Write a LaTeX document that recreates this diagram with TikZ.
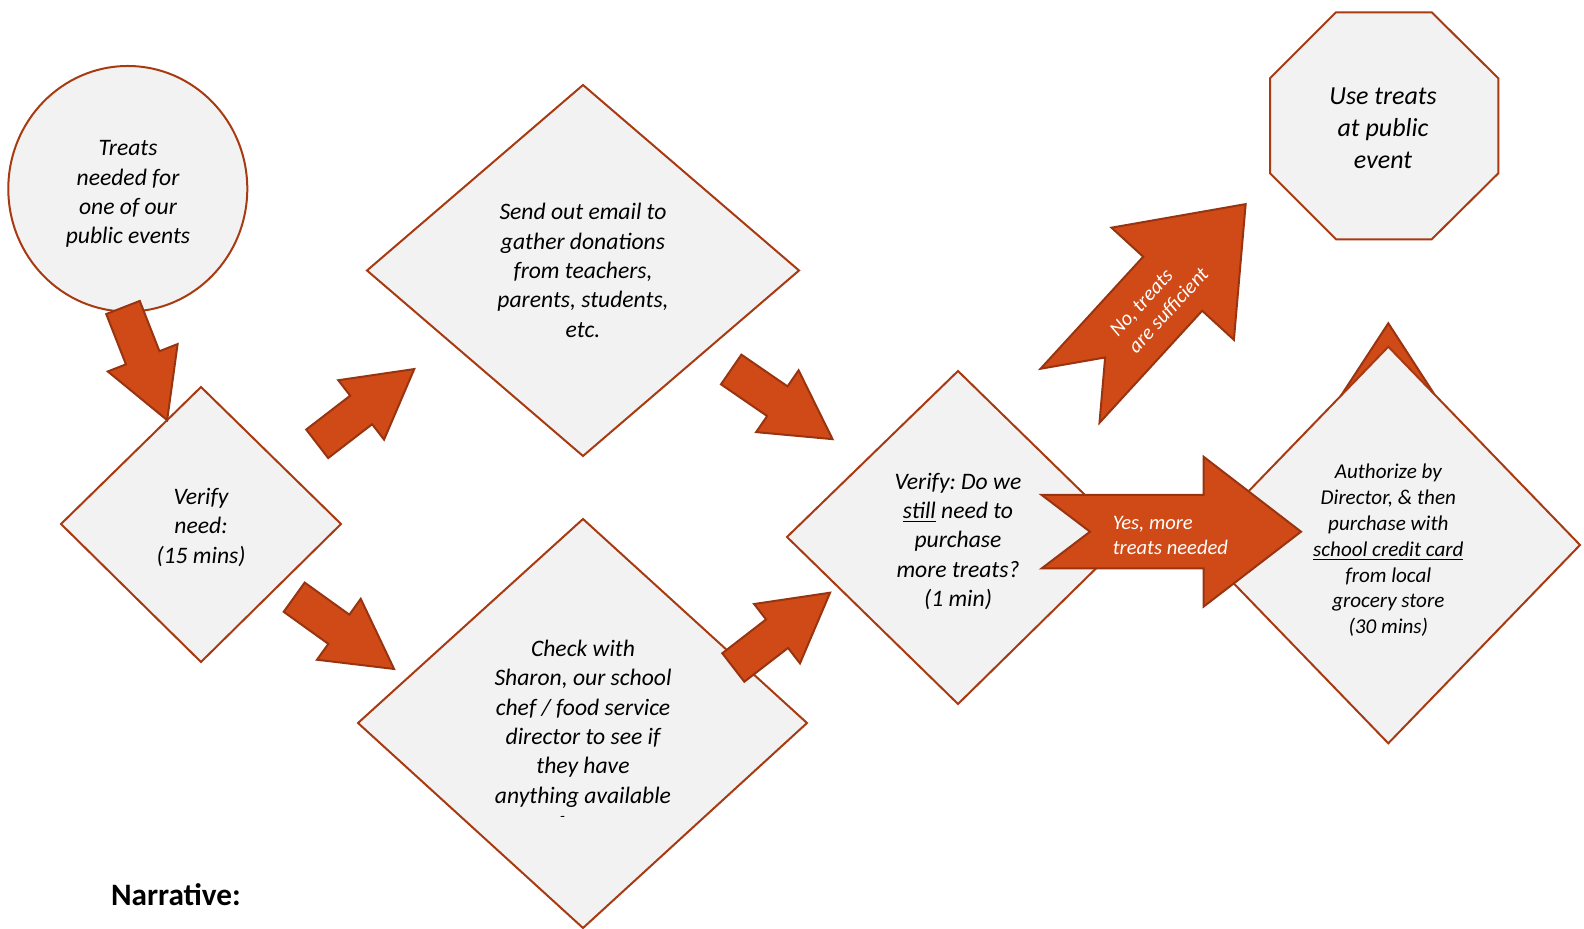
\documentclass[tikz,border=0pt]{standalone}
\usepackage{fontspec}
\setmainfont{Carlito}
\frenchspacing
\usetikzlibrary{calc}
\definecolor{shapefill}{HTML}{F2F2F2}
\definecolor{edgecol}{RGB}{168,58,18}
\definecolor{arrfill}{RGB}{208,74,23}
\definecolor{arredge}{RGB}{152,52,16}
% #1 tail centre, #2 angle, #3 length, #4 shaft half width, #5 head half width, #6 head length, #7 notch depth
\newcommand{\blockarrow}[7]{%
  \begin{scope}[shift={(#1)},rotate=#2]
    \draw[barrow] (0,-#4) -- ({#3-#6},-#4) -- ({#3-#6},-#5) -- (#3,0) -- ({#3-#6},#5) -- ({#3-#6},#4) -- (0,#4) -- (#7,0) -- cycle;
  \end{scope}}
\begin{document}
\begin{tikzpicture}[x=0.5pt,y=-0.5pt,
  shapebox/.style={draw=edgecol, fill=shapefill, line width=1pt, line join=miter},
  barrow/.style={draw=arredge, fill=arrfill, line width=1pt, line join=miter},
  maintext/.style={font=\fontsize{11.8pt}{14.65pt}\selectfont\itshape, align=center, inner sep=0pt},
  authtext/.style={font=\fontsize{10.55pt}{12.9pt}\selectfont\itshape, align=center, inner sep=0pt},
  octtext/.style={font=\fontsize{13pt}{16.1pt}\selectfont\itshape, align=center, inner sep=0pt},
  arrtext/.style={font=\fontsize{10.3pt}{12.5pt}\selectfont\itshape, text=white, align=left, inner sep=0pt}]
\useasboundingbox (0,0) rectangle (1584,929);

% start circle
\draw[shapebox] (127.8,188.8) ellipse [x radius=119.5, y radius=122.8];
\node[maintext] (start) at (128,194) {Treats\\needed for\\one of our\\public events};

% verify need
\draw[shapebox] (201,387) -- (341,524) -- (201,662) -- (61,524) -- cycle;
\node[maintext] (verifyone) at (201,527.5) {Verify\\need:\\(15 mins)};

% send email
\draw[shapebox] (583,85) -- (799,270.5) -- (583,456) -- (367,270.5) -- cycle;
\node[maintext] (email) at (583,270.5) {Send out email to\\gather donations\\from teachers,\\parents, students,\\etc.};

% check with Sharon
\draw[shapebox] (583,519) -- (807,723) -- (583,928) -- (358,723) -- cycle;
\begin{scope}
  \clip (300,600) rectangle (870,816);
  \node[maintext] (check) at (583,737.6) {Check with\\Sharon, our school\\chef / food service\\director to see if\\they have\\anything available\\for us};
\end{scope}

% verify still need
\draw[shapebox] (958,371) -- (1128,537) -- (958,704) -- (787,537) -- cycle;
\node[maintext] (verifytwo) at (958,541.5) {Verify: Do we\\\underline{still} need to\\purchase\\more treats?\\(1 min)};

% octagon
\draw[shapebox] (1336,12.3) -- (1431.7,12.3) -- (1498.3,78.3) -- (1498.3,173.3) -- (1431.7,239.3) -- (1336,239.3) -- (1270,173.3) -- (1270,78.3) -- cycle;
\node[octtext] (useit) at (1383,128) {Use treats\\at public\\event};

% triangle behind authorize
\draw[barrow] (1388.3,323.3) -- (1457.5,430) -- (1318.5,430) -- cycle;
% authorize
\draw[shapebox] (1388.3,346.7) -- (1580,545) -- (1388.3,743.3) -- (1196.6,545) -- cycle;
\node[authtext] (auth) at (1388.3,550.5) {Authorize by\\Director, \& then\\purchase with\\\underline{school credit card}\\from local\\grocery store\\(30 mins)};

% block arrows
\blockarrow{123,307.5}{-68.6}{121}{18}{37.5}{67}{0}
\blockarrow{317.2,443.8}{37.6}{122.5}{18}{37.5}{67}{0}
\blockarrow{731.2,369.5}{-34.5}{123}{18}{37.5}{67}{0}
\blockarrow{733.3,667.5}{37.7}{122.3}{18}{37.5}{67}{0}
\blockarrow{294.2,597.2}{-35.7}{123}{18}{37.5}{68}{0}

% No arrow
\blockarrow{1070,395.8}{47.5}{260}{40}{83}{108}{52}
\node[arrtext, rotate=47.5] (nolabel) at (1159,302) {No, treats\\are sufficient};

% Yes arrow
\blockarrow{1041.7,531.7}{0}{259.3}{36.7}{75}{97.5}{48.3}
\node[arrtext] (yeslabel) at (1170.4,535) {Yes, more\\treats needed};

% narrative
\node[font=\fontsize{15.6pt}{18pt}\selectfont\bfseries, anchor=base west, inner sep=0pt] (narr) at (110.7,905) {Narrative:};
\end{tikzpicture}
\end{document}
